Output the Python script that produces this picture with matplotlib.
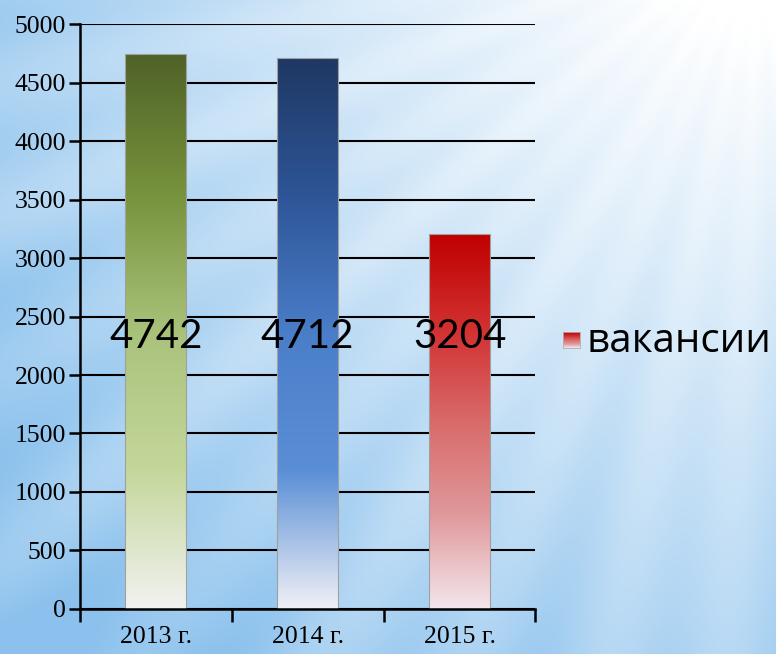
import numpy as np
import matplotlib
matplotlib.use('Agg')
import matplotlib.pyplot as plt
from matplotlib.colors import LinearSegmentedColormap

# data
years = ['2013 г.', '2014 г.', '2015 г.']
vacancies = [4742, 4712, 3204]
series_name = 'вакансии'

# gradient colours for each bar (top -> bottom)
bar_grads = [
    ['#4f6228', '#77923c', '#a9c27a', '#c4d79b', '#f2f2f0'],
    ['#1f3864', '#2e5597', '#4a7ec9', '#5a8fd6', '#f0f0f6'],
    ['#c00000', '#d23030', '#d96a6a', '#e0999b', '#f3e6ec'],
]

fig = plt.figure(figsize=(7.76, 6.54), dpi=100)

# sky-like background
bg = fig.add_axes([0, 0, 1, 1])
h, w = 654, 776
yy, xx = np.mgrid[0:h, 0:w]
cx, cy = 760, -80
ang = np.arctan2(yy - cy, xx - cx)
dist = np.hypot(xx - cx, yy - cy) / 900.0
rays = 0.08 * np.sin(ang * 38) + 0.05 * np.sin(ang * 17 + 1.0)
t = np.clip(dist * 1.0 - 0.12 + rays * dist, 0, 1)
white = np.array([1.0, 1.0, 1.0])
blue = np.array([0.55, 0.76, 0.93])
img = white[None, None, :] * (1 - t[..., None]) + blue[None, None, :] * t[..., None]
bg.imshow(img, aspect='auto', extent=[0, 1, 0, 1], origin='upper')
bg.axis('off')

ax = fig.add_axes([0.103, 0.069, 0.587, 0.894])
ax.set_facecolor('none')

x = np.arange(len(years))
bars = ax.bar(x, vacancies, width=0.4, color='none', edgecolor='#a0a0a0',
              linewidth=0.8, zorder=3)

for b, cols in zip(bars, bar_grads):
    cmap = LinearSegmentedColormap.from_list('g', cols)
    grad = np.linspace(0, 1, 256).reshape(-1, 1)
    x0, y0 = b.get_x(), b.get_y()
    im = ax.imshow(grad, cmap=cmap, aspect='auto', origin='upper',
                   extent=[x0, x0 + b.get_width(), y0, y0 + b.get_height()],
                   zorder=2)
    im.set_clip_path(b)

ax.set_xlim(-0.5, 2.5)
ax.set_ylim(0, 5000)
ax.set_yticks(np.arange(0, 5001, 500))
ax.set_xticks(x)
ax.set_xticklabels(years)
ax.set_xticks([-0.5, 0.5, 1.5, 2.5], minor=True)
ax.tick_params(axis='x', which='major', length=0, pad=12)
ax.tick_params(axis='x', which='minor', length=9, width=1.8, direction='out')
ax.tick_params(axis='y', length=8, width=1.8, direction='out', pad=2)
for lab in ax.get_xticklabels() + ax.get_yticklabels():
    lab.set_fontfamily('Liberation Serif')
    lab.set_fontsize(18.5)

ax.grid(axis='y', color='black', linewidth=1.5, zorder=1)
ax.set_axisbelow(True)
for s in ['top', 'right']:
    ax.spines[s].set_visible(False)
for s in ['left', 'bottom']:
    ax.spines[s].set_linewidth(1.8)
    ax.spines[s].set_zorder(4)

for xi, v in zip(x, vacancies):
    ax.text(xi, 2330, str(v), ha='center', va='center', fontsize=29,
            family='Lato', zorder=5)

# legend
lax = fig.add_axes([563 / 776, 1 - 348 / 654, 17 / 776, 16 / 654])
lcm = LinearSegmentedColormap.from_list('l', bar_grads[2])
lax.imshow(np.linspace(0, 1, 64).reshape(-1, 1), cmap=lcm, aspect='auto')
lax.set_xticks([])
lax.set_yticks([])
for s in lax.spines.values():
    s.set_color('#b0b0b0')
    s.set_linewidth(0.6)
fig.text(586 / 776, 1 - 342 / 654, series_name, fontsize=29, family='Open Sans',
         va='center', ha='left')

fig.savefig('out.png', dpi=100)
